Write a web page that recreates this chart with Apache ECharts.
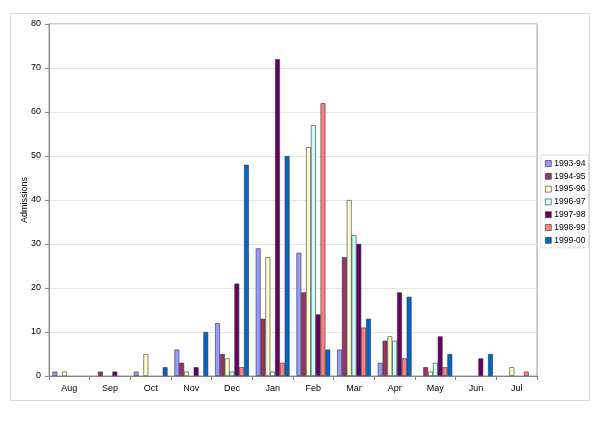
<!DOCTYPE html>
<html><head><meta charset="utf-8">
<script src="https://cdn.jsdelivr.net/npm/echarts@6/dist/echarts.min.js"></script>
<style>html,body{margin:0;padding:0;background:#fff}#c{width:600px;height:424px}</style>
</head><body><div id="c"></div>
<script>
var months = ['Aug','Sep','Oct','Nov','Dec','Jan','Feb','Mar','Apr','May','Jun','Jul'];
var seriesNames = ['1993-94','1994-95','1995-96','1996-97','1997-98','1998-99','1999-00'];
var s1993 = [1,0,1,6,12,29,28,6,3,0,0,0];
var s1994 = [0,1,0,3,5,13,19,27,8,2,0,0];
var s1995 = [1,0,5,1,4,27,52,40,9,1,0,2];
var s1996 = [0,0,0,0,1,1,57,32,8,3,0,0];
var s1997 = [0,1,0,2,21,72,14,30,19,9,4,0];
var s1998 = [0,0,0,0,2,3,62,11,4,2,0,1];
var s1999 = [0,0,2,10,48,50,6,13,18,5,5,0];
var yTicks = [0,10,20,30,40,50,60,70,80];
var colors = ['#9999FF','#993366','#FFFFCC','#CCFFFF','#660066','#FF8080','#0066CC'];
var allData = [s1993,s1994,s1995,s1996,s1997,s1998,s1999];

var chart = echarts.init(document.getElementById('c'), null, {renderer:'canvas'});
var font = 'Liberation Sans, Arial, sans-serif';
var series = seriesNames.map(function(n,i){
  return {
    name:n, type:'bar', data: allData[i].map(function(v){return v===0?null:v;}),
    barGap:'0%', barCategoryGap:'17%',
    itemStyle:{color:colors[i], borderColor:'#333', borderWidth:0.6},
    emphasis:{disabled:true}, animation:false
  };
});
chart.setOption({
  animation:false,
  textStyle:{fontFamily:font},
  graphic:[{type:'rect', shape:{x:10.5,y:13.5,width:579,height:387}, style:{fill:'none', stroke:'#d8d8d8', lineWidth:1}, z:-1}],
  grid:{left:49, right:63, top:24, bottom:48, show:true, borderColor:'#9a9a9a', borderWidth:1},
  legend:{
    orient:'vertical', left:541, top:155, itemWidth:6, itemHeight:6, itemGap:3.8,
    borderColor:'#e0e0e0', borderWidth:1, padding:[4,3,3,4],
    icon:'rect',
    textStyle:{fontSize:8.5, color:'#000', fontFamily:font, padding:[0,0,0,-2]},
    itemStyle:{borderColor:'#333', borderWidth:0.6},
    data: seriesNames
  },
  xAxis:{
    type:'category', data:months,
    axisLine:{lineStyle:{color:'#888'}},
    axisTick:{show:true, length:4, lineStyle:{color:'#888'}},
    axisLabel:{fontSize:9, color:'#000', margin:8, fontFamily:font}
  },
  yAxis:{
    type:'value', min:0, max:80, interval:10,
    name:'Admissions', nameLocation:'middle', nameGap:20, nameRotate:90,
    nameMoveOverlap:false,
    nameTextStyle:{fontSize:9, color:'#000', fontFamily:font},
    axisLine:{show:true, lineStyle:{color:'#888'}},
    axisTick:{show:true, length:4, lineStyle:{color:'#888'}},
    axisLabel:{fontSize:9, color:'#000', margin:8, fontFamily:font},
    splitLine:{lineStyle:{color:'#e6e6e6'}}
  },
  series: series
});
</script></body></html>
